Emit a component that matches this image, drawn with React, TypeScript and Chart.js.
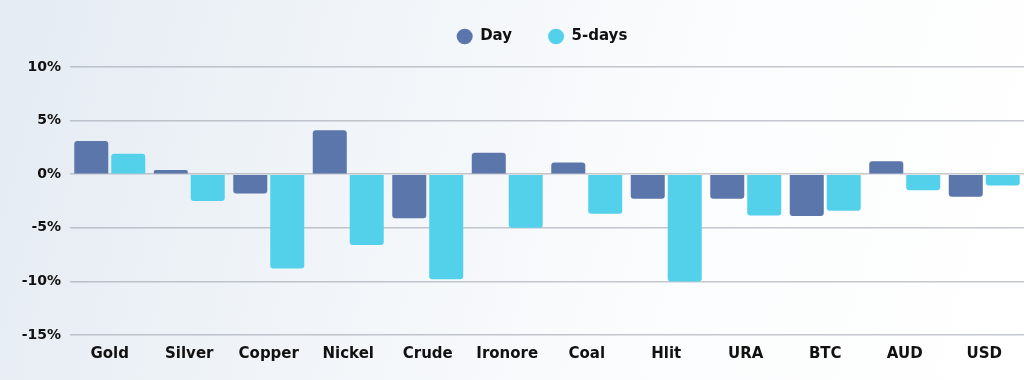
import React, { useEffect, useRef } from "react";
import { Chart, registerables } from "chart.js";

Chart.register(...registerables);

const categories = ["Gold", "Silver", "Copper", "Nickel", "Crude", "Ironore", "Coal", "Hlit", "URA", "BTC", "AUD", "USD"];
const dayValues = [3.1, 0.4, -1.8, 4.1, -4.1, 2.0, 1.1, -2.3, -2.3, -3.9, 1.2, -2.1];
const fiveDayValues = [1.9, -2.5, -8.8, -6.6, -9.8, -5.0, -3.7, -10.0, -3.85, -3.4, -1.5, -1.05];
const seriesLabels = ["Day", "5-days"];
const yMin = -15;
const yMax = 10;
const yStep = 5;

const FONT = "'DejaVu Sans', sans-serif";

const legendFix = {
  id: "legendFix",
  afterInit(chart: any) {
    const lg = chart.legend;
    if (!lg) return;
    const orig = lg.fit;
    lg.fit = function () {
      orig.call(this);
      this.height = 67;
    };
  },
  afterLayout(chart: any) {
    const lg = chart.legend;
    if (!lg) return;
    lg.left += 30;
    lg.right += 30;
    lg.top = -7;
  },
};

export default function App() {
  const ref = useRef<HTMLCanvasElement | null>(null);

  useEffect(() => {
    if (!ref.current) return;
    const chart = new Chart(ref.current, {
      type: "bar",
      data: {
        labels: categories,
        datasets: [
          {
            label: seriesLabels[0],
            data: dayValues,
            backgroundColor: "#5a76ab",
            borderRadius: 3,
            barPercentage: 0.92,
            categoryPercentage: 0.93,
          },
          {
            label: seriesLabels[1],
            data: fiveDayValues,
            backgroundColor: "#53d1eb",
            borderRadius: 3,
            barPercentage: 0.92,
            categoryPercentage: 0.93,
          },
        ],
      },
      options: {
        animation: false,
        responsive: false,
        maintainAspectRatio: false,
        layout: { padding: { top: 0, right: 0, bottom: 7, left: 0 } },
        plugins: {
          tooltip: { enabled: false },
          legend: {
            position: "top",
            align: "center",
            labels: {
              usePointStyle: true,
              pointStyle: "circle",
              boxHeight: 11,
              pointStyleWidth: 16,
              padding: 36,
              color: "#111111",
              font: { family: FONT, size: 15, weight: "bold" },
            },
          },
        },
        scales: {
          x: {
            grid: { display: false, drawTicks: false },
            border: { display: false },
            ticks: {
              color: "#111111",
              padding: 10,
              font: { family: FONT, size: 15, weight: "bold" },
              maxRotation: 0,
              autoSkip: false,
            },
          },
          y: {
            min: yMin,
            max: yMax,
            afterFit: (s: any) => {
              s.width = 70;
            },
            grid: { color: "rgba(150,155,165,0.55)", lineWidth: 1.5, drawTicks: false },
            border: { display: false },
            ticks: {
              stepSize: yStep,
              color: "#111111",
              padding: 9,
              font: { family: FONT, size: 14, weight: "bold" },
              callback: (v: any) => v + "%",
            },
          },
        },
      },
      plugins: [legendFix],
    });
    return () => chart.destroy();
  }, []);

  return (
    <div
      style={{
        position: "absolute",
        left: 0,
        top: 0,
        width: 1024,
        height: 380,
        background: "linear-gradient(105deg, #e4ebf2 0%, #f1f5f9 35%, #fbfcfd 65%, #ffffff 100%)",
      }}
    >
      <canvas ref={ref} width={1024} height={380} style={{ display: "block" }} />
    </div>
  );
}
